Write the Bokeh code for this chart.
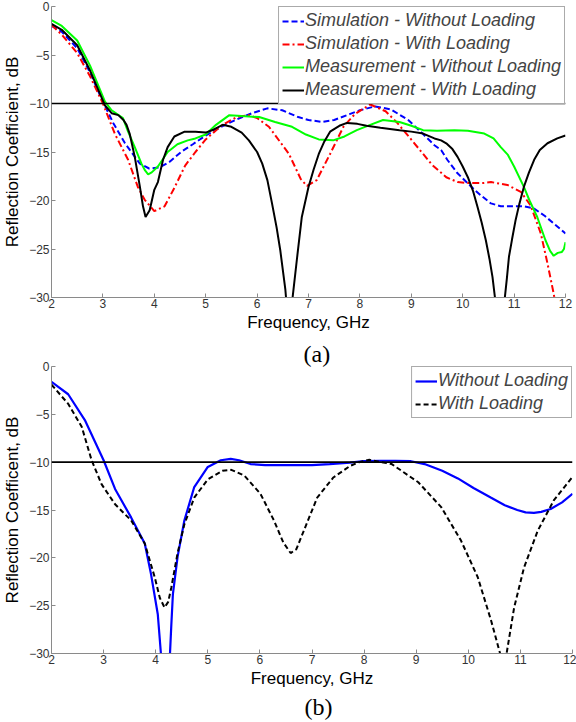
from bokeh.plotting import figure
from bokeh.models import Span, Title, Legend, LegendItem, FixedTicker
from bokeh.embed import file_html
from bokeh.resources import INLINE

# ---------------- Panel (a) data ----------------
sim_wo_f = [2.0, 2.2, 2.5, 2.75, 3.0, 3.2, 3.43, 3.72, 3.9, 4.1, 4.3, 4.52, 4.75, 5.0, 5.3, 5.58, 5.9, 6.2,
            6.49, 6.8, 7.0, 7.26, 7.5, 7.8, 8.0, 8.29, 8.6, 8.94, 9.2, 9.45, 9.58, 9.7, 9.9, 10.23, 10.36, 10.55,
            10.74, 11.0, 11.2, 11.38, 11.6, 11.8, 12.0]
sim_wo_db = [-2.0, -2.6, -4.3, -6.8, -9.8, -12.0, -14.1, -16.2, -16.7, -16.6, -16.0, -15.0, -14.2, -13.3, -12.4,
             -11.7, -11.0, -10.5, -10.7, -11.4, -11.7, -11.9, -11.7, -11.1, -10.7, -10.3, -10.6, -11.7, -13.0,
             -14.3, -14.8, -15.8, -17.2, -18.9, -19.5, -20.3, -20.6, -20.6, -20.6, -20.8, -21.6, -22.5, -23.4]

sim_w_f = [2.0, 2.2, 2.5, 2.75, 3.0, 3.23, 3.49, 3.68, 3.81, 4.0, 4.2, 4.39, 4.6, 4.8, 5.0, 5.3, 5.6, 5.84, 6.0,
           6.23, 6.62, 6.85, 6.97, 7.16, 7.42, 7.68, 7.9, 8.2, 8.5, 8.71, 8.95, 9.23, 9.4, 9.68, 9.9, 10.1, 10.4,
           10.55, 10.87, 11.13, 11.32, 11.52, 11.65, 11.77, 11.85, 12.0]
sim_w_db = [-1.9, -2.9, -4.8, -7.2, -10.0, -13.1, -15.8, -18.6, -19.9, -21.1, -20.6, -18.7, -16.4, -15.0, -13.7,
            -12.3, -11.4, -11.2, -11.5, -12.4, -15.2, -17.8, -18.5, -17.9, -15.2, -12.4, -11.1, -10.1, -10.8,
            -11.9, -13.4, -15.2, -16.3, -17.6, -18.1, -18.2, -18.2, -18.1, -18.4, -19.1, -20.5, -23.4, -26.5,
            -29.6, -32.0, -36.0]

meas_wo_f = [2.0, 2.2, 2.5, 2.75, 3.04, 3.17, 3.39, 3.49, 3.62, 3.75, 3.82, 3.88, 3.95, 4.07, 4.26, 4.45, 4.65,
             4.8, 5.0, 5.2, 5.46, 5.7, 6.04, 6.35, 6.68, 6.95, 7.2, 7.48, 7.7, 7.94, 8.2, 8.45, 8.77, 9.0, 9.23,
             9.5, 9.84, 10.1, 10.42, 10.6, 10.74, 10.88, 11.0, 11.19, 11.3, 11.45, 11.61, 11.7, 11.77, 11.85,
             11.93, 11.97, 12.0]
meas_wo_db = [-1.4, -2.0, -3.5, -6.1, -9.8, -10.7, -11.5, -12.9, -14.5, -16.2, -16.9, -17.3, -17.1, -16.5, -15.0,
              -14.2, -13.8, -13.6, -13.2, -12.2, -11.2, -11.3, -11.4, -11.9, -12.4, -13.2, -13.7, -13.8, -13.4,
              -12.75, -12.2, -11.7, -11.9, -12.3, -12.75, -12.8, -12.75, -12.8, -13.1, -13.6, -14.5, -15.3,
              -16.5, -18.6, -20.0, -21.7, -24.1, -25.2, -25.7, -25.4, -25.3, -25.0, -24.3]

meas_w_f = [2.0, 2.2, 2.5, 2.75, 3.04, 3.17, 3.3, 3.4, 3.46, 3.52, 3.62, 3.72, 3.78, 3.83, 3.91, 4.0, 4.07, 4.17,
            4.26, 4.39, 4.59, 4.8, 5.0, 5.15, 5.33, 5.5, 5.7, 5.84, 6.0, 6.1, 6.2, 6.29, 6.38, 6.45, 6.55, 6.61,
            6.68, 6.78, 6.87, 7.0, 7.1, 7.2, 7.3, 7.42, 7.6, 7.75, 7.95, 8.13, 8.4, 8.77, 9.0, 9.23, 9.45, 9.58,
            9.68, 9.8, 9.9, 10.0, 10.1, 10.2, 10.29, 10.37, 10.45, 10.52, 10.58, 10.65, 10.72, 10.8, 10.86,
            10.9, 10.96, 11.03, 11.1, 11.19, 11.29, 11.39, 11.5, 11.65, 11.84, 12.0]
meas_w_db = [-1.8, -2.4, -4.0, -6.6, -10.2, -11.0, -11.2, -11.7, -12.2, -13.1, -15.5, -18.6, -20.6, -21.7, -21.0,
             -18.9, -18.1, -15.8, -14.5, -13.4, -12.9, -12.9, -13.0, -12.7, -12.2, -12.4, -13.0, -13.8, -15.0,
             -16.2, -17.9, -20.3, -22.8, -25.1, -29.2, -33.0, -30.5, -25.8, -21.7, -18.6, -16.8, -15.2, -14.0,
             -12.9, -12.3, -12.0, -12.1, -12.3, -12.5, -12.75, -12.9, -13.1, -13.6, -13.8, -14.1, -14.7, -15.5,
             -16.5, -17.6, -19.0, -20.7, -22.3, -24.1, -26.0, -27.9, -31.0, -32.0, -31.0, -28.0, -25.8, -24.0,
             -22.0, -20.4, -18.6, -17.1, -15.8, -14.8, -14.1, -13.6, -13.3]

# ---------------- Panel (b) data ----------------
b_wo_f = [2.0, 2.32, 2.64, 3.0, 3.22, 3.53, 3.79, 3.91, 4.04, 4.1, 4.18, 4.27, 4.3, 4.33, 4.42, 4.55, 4.74, 5.0,
          5.25, 5.44, 5.6, 5.82, 6.1, 6.46, 7.0, 7.34, 7.73, 7.99, 8.3, 8.6, 8.9, 9.16, 9.5, 9.8, 10.1, 10.43,
          10.7, 10.94, 11.1, 11.26, 11.4, 11.58, 11.8, 12.0]
b_wo_db = [-1.6, -2.9, -5.6, -9.8, -12.8, -15.8, -18.5, -21.7, -25.9, -30.0, -36.0, -30.5, -27.0, -23.8, -19.9,
           -16.1, -12.6, -10.5, -9.8, -9.65, -9.8, -10.2, -10.3, -10.3, -10.3, -10.2, -10.05, -9.9, -9.85, -9.85,
           -9.9, -10.2, -10.9, -11.7, -12.7, -13.7, -14.5, -15.0, -15.25, -15.3, -15.2, -14.9, -14.2, -13.3]

b_w_f = [2.0, 2.32, 2.58, 2.77, 2.96, 3.22, 3.53, 3.79, 3.98, 4.08, 4.17, 4.24, 4.3, 4.42, 4.55, 4.74, 5.0, 5.28,
         5.45, 5.7, 6.01, 6.27, 6.45, 6.59, 6.7, 6.84, 7.1, 7.41, 7.73, 7.9, 8.1, 8.43, 8.53, 9.04, 9.48, 9.86,
         10.18, 10.44, 10.6, 10.66, 10.72, 10.88, 11.07, 11.33, 11.64, 11.99]
b_w_db = [-1.9, -3.9, -6.3, -9.8, -12.3, -14.4, -16.1, -18.5, -22.0, -24.2, -25.2, -24.6, -23.1, -19.5, -16.5,
          -13.7, -11.8, -10.9, -10.8, -11.4, -13.3, -16.1, -18.4, -19.5, -19.1, -17.2, -13.7, -11.6, -10.4, -10.0,
          -9.75, -10.1, -10.2, -12.1, -14.7, -18.2, -22.0, -26.6, -29.8, -31.0, -30.5, -25.2, -21.0, -17.2, -14.0,
          -11.6]

x_ticks = [2, 3, 4, 5, 6, 7, 8, 9, 10, 11, 12]
y_ticks = [0, -5, -10, -15, -20, -25, -30]
threshold = -10

legend_a = ["Simulation - Without Loading", "Simulation - With Loading",
            "Measurement - Without Loading", "Measurement - With Loading"]
legend_b = ["Without Loading", "With Loading"]
captions = ["(a)", "(b)"]

FONT = "Liberation Sans"


def make_fig(height, right, top, bottom, ylabel):
    p = figure(width=576, height=height, x_range=(2, 12), y_range=(-30, 0),
               output_backend="svg", toolbar_location=None,
               min_border_left=48, min_border_right=right, min_border_top=top,
               min_border_bottom=bottom)
    p.grid.visible = False
    p.outline_line_color = None
    for ax in (p.xaxis[0], p.yaxis[0]):
        ax.axis_line_color = "#8a8a8a"
        ax.major_tick_line_color = "#8a8a8a"
        ax.major_tick_in = 4
        ax.major_tick_out = 0
        ax.minor_tick_line_color = None
        ax.major_label_text_font = FONT
        ax.major_label_text_font_size = "12px"
        ax.major_label_text_color = "#333333"
        ax.axis_label_text_font = FONT
        ax.axis_label_text_font_size = "17px"
        ax.axis_label_text_font_style = "normal"
        ax.axis_label_text_color = "#000000"
    p.xaxis[0].ticker = FixedTicker(ticks=x_ticks)
    p.yaxis[0].ticker = FixedTicker(ticks=y_ticks)
    p.xaxis[0].axis_label = "Frequency, GHz"
    p.yaxis[0].axis_label = ylabel
    p.xaxis[0].major_label_standoff = 1
    p.xaxis[0].axis_label_standoff = 2
    p.yaxis[0].major_label_standoff = 2
    p.yaxis[0].axis_label_standoff = 4
    p.add_layout(Span(location=threshold, dimension="width", line_color="black", line_width=1.6))
    return p


def caption(p, text, side, offset, standoff):
    p.add_layout(Title(text=text, align="left", offset=offset, standoff=standoff,
                       text_font="Liberation Serif", text_font_size="24px",
                       text_font_style="normal", text_color="black"), side)


pa = make_fig(338, 11, 6, 41, "Reflection Coefficient, dB")
r1 = pa.line(sim_wo_f, sim_wo_db, line_color="#0000ff", line_width=2, line_dash="6 3")
r2 = pa.line(sim_w_f, sim_w_db, line_color="#ff0000", line_width=2, line_dash="7 3 2 3")
r3 = pa.line(meas_wo_f, meas_wo_db, line_color="#00ff00", line_width=2)
r4 = pa.line(meas_w_f, meas_w_db, line_color="#000000", line_width=2)
leg_a = Legend(items=[LegendItem(label=legend_a[i], renderers=[r]) for i, r in enumerate([r1, r2, r3, r4])],
               location="top_right", margin=0, padding=3, spacing=2, label_standoff=1,
               glyph_width=22, glyph_height=20, label_height=20,
               label_text_font=FONT, label_text_font_size="18px", label_text_font_style="italic",
               border_line_color="#555555", border_line_width=1, background_fill_alpha=1)
pa.add_layout(leg_a)

pb = make_fig(384, 4, 28, 69, "Reflection Coefficent, dB")
s1 = pb.line(b_wo_f, b_wo_db, line_color="#0000ff", line_width=2.2)
s2 = pb.line(b_w_f, b_w_db, line_color="#000000", line_width=2, line_dash="5 3")
leg_b = Legend(items=[LegendItem(label=legend_b[i], renderers=[r]) for i, r in enumerate([s1, s2])],
               location="top_right", margin=0, padding=3, spacing=2, label_standoff=1,
               glyph_width=22, glyph_height=20, label_height=20,
               label_text_font=FONT, label_text_font_size="18px", label_text_font_style="italic",
               border_line_color="#555555", border_line_width=1, background_fill_alpha=1)
pb.add_layout(leg_b)

# captions: "(a)" sits just above panel (b)'s frame, "(b)" below its axis label
caption(pb, captions[0], "above", 252, 0)
caption(pb, captions[1], "below", 253, 2)

open("out.html", "w").write(file_html([pa, pb], INLINE))
